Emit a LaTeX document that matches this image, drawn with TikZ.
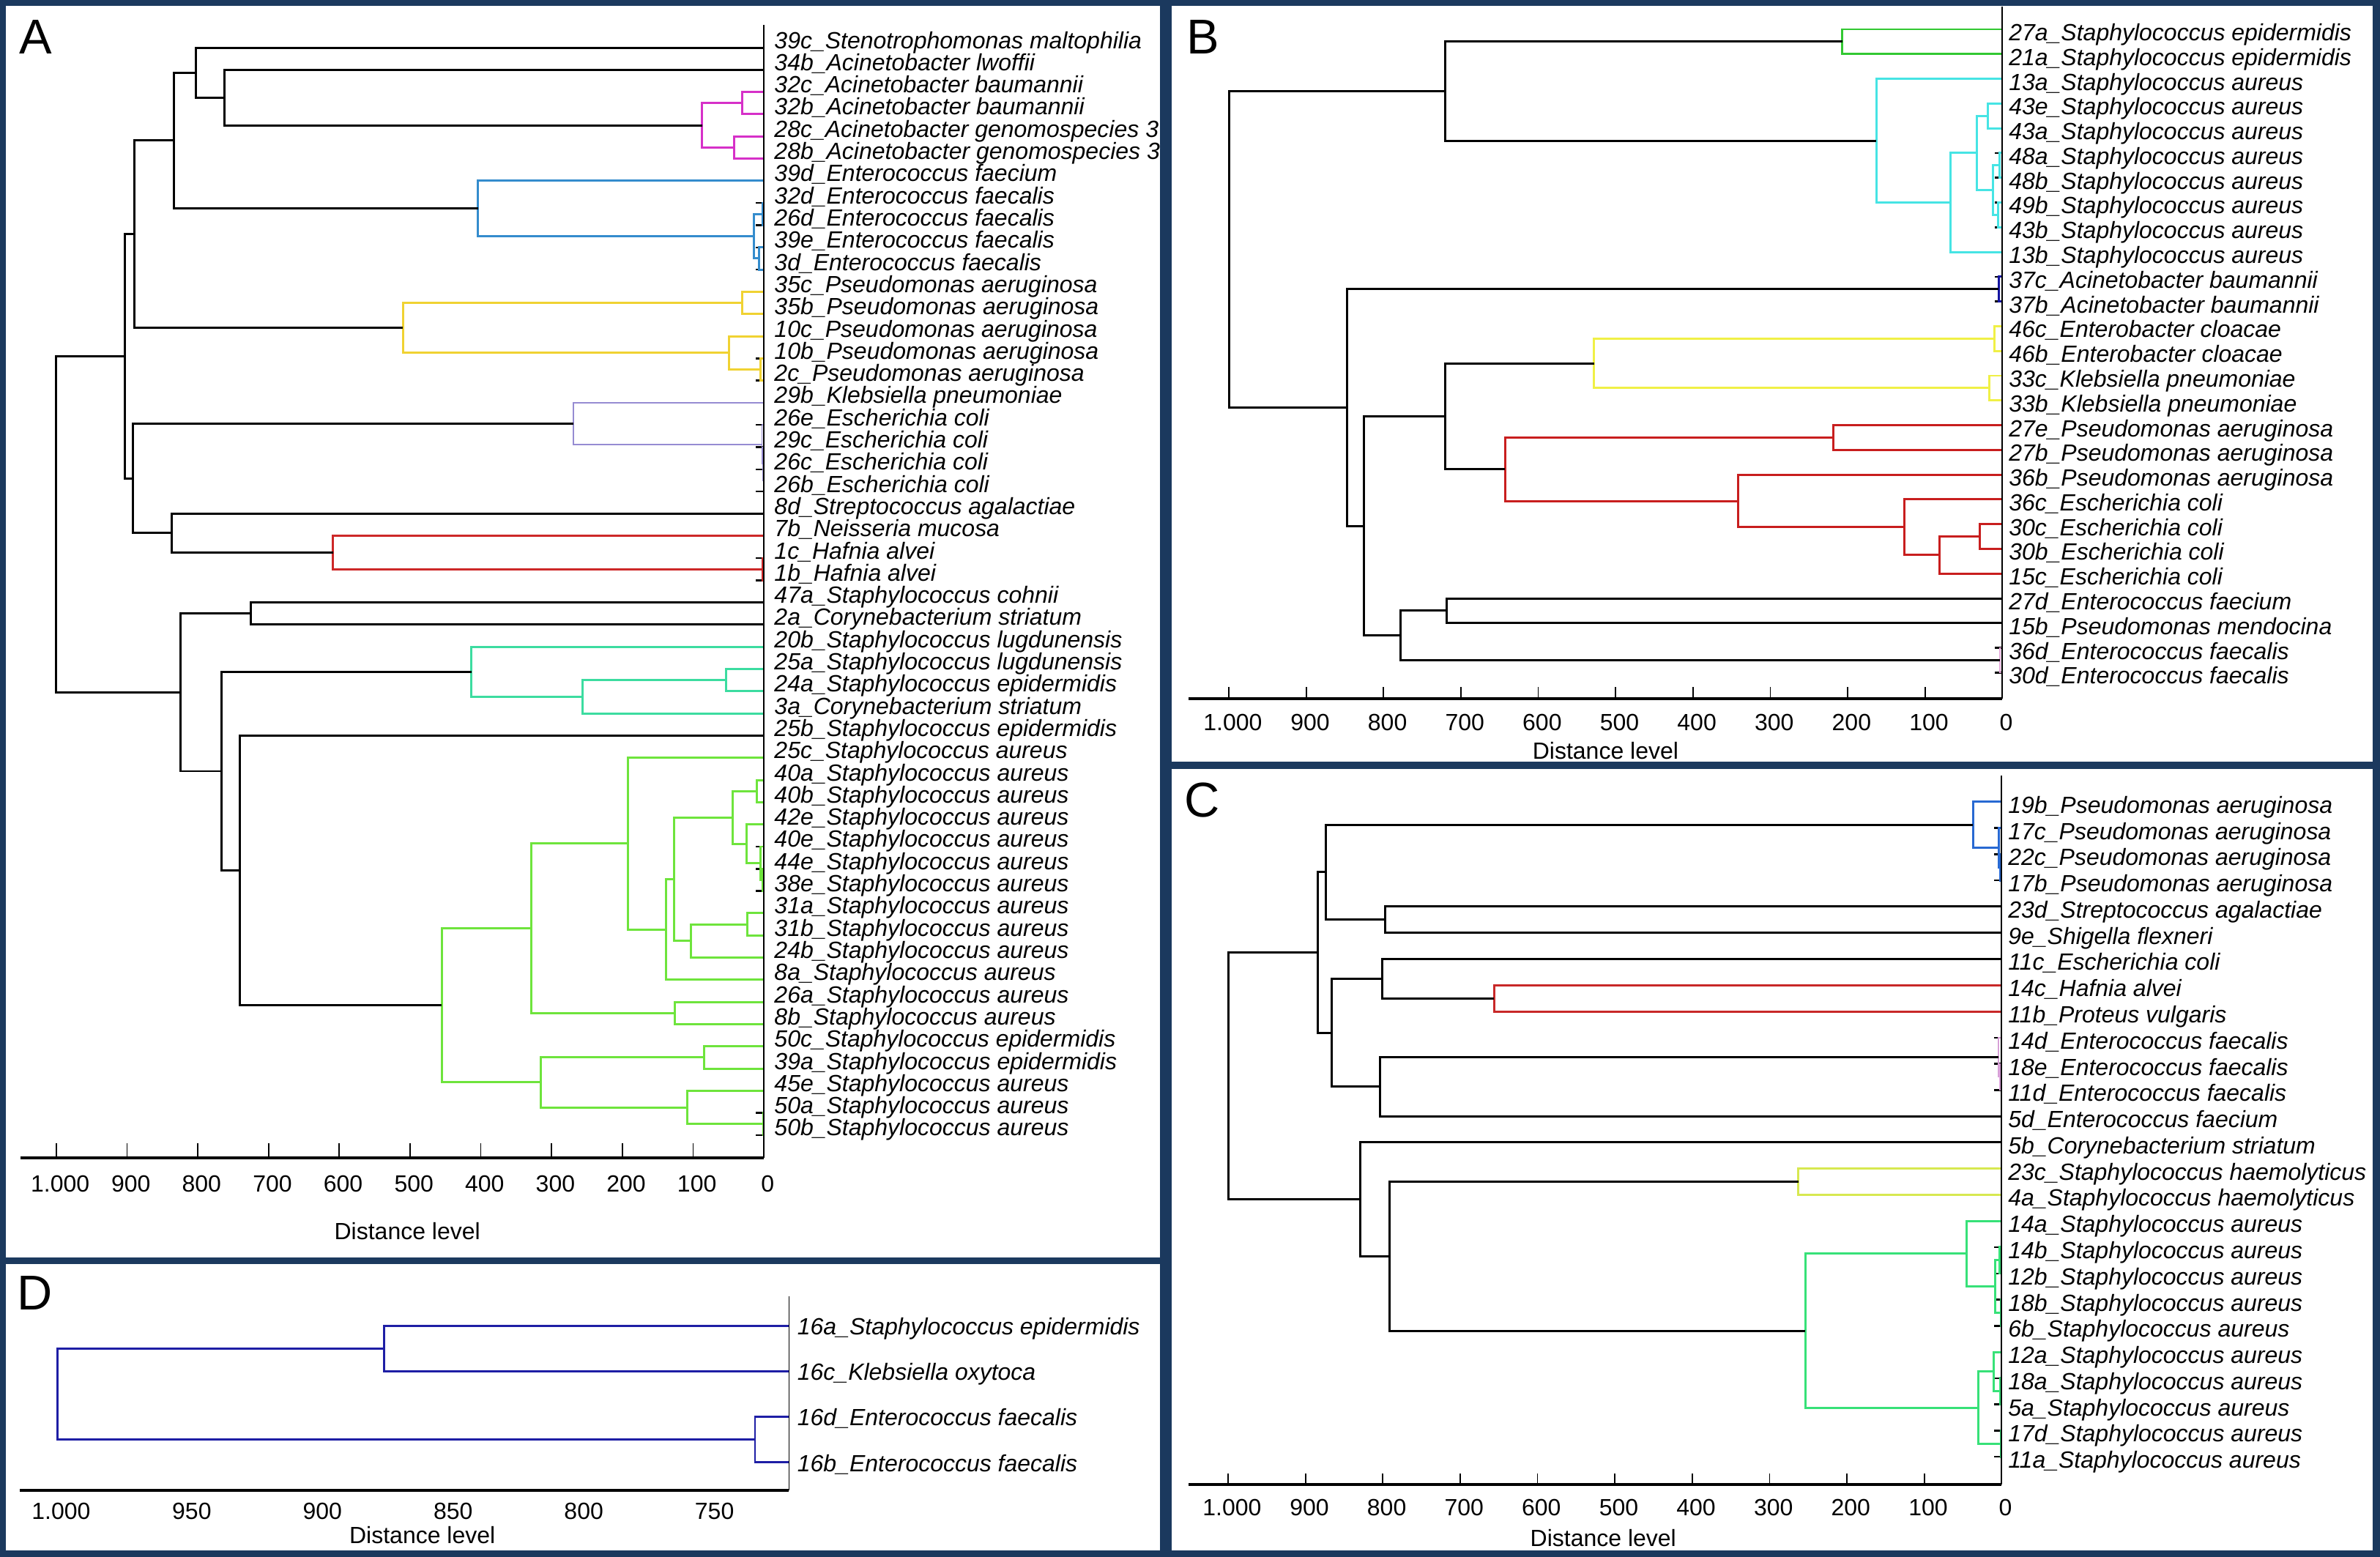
\documentclass[tikz,border=0pt]{standalone}
\usepackage{fontspec}
\setmainfont{Liberation Sans}
\usetikzlibrary{calc}

\definecolor{frame}{RGB}{27,57,94}
\definecolor{magA}{RGB}{214,48,200}
\definecolor{blueA}{RGB}{52,140,205}
\definecolor{yelA}{RGB}{240,210,50}
\definecolor{lavA}{RGB}{150,140,210}
\definecolor{redA}{RGB}{205,40,40}
\definecolor{tealA}{RGB}{60,220,160}
\definecolor{grnA}{RGB}{110,228,60}
\definecolor{grnB}{RGB}{50,200,50}
\definecolor{cyanB}{RGB}{70,228,228}
\definecolor{navyB}{RGB}{20,20,160}
\definecolor{yelB}{RGB}{240,240,70}
\definecolor{redB}{RGB}{200,30,30}
\definecolor{pinkB}{RGB}{230,170,220}
\definecolor{blueC}{RGB}{40,105,210}
\definecolor{redC}{RGB}{200,40,40}
\definecolor{pinkC}{RGB}{215,160,215}
\definecolor{limeC}{RGB}{215,232,80}
\definecolor{grnC}{RGB}{55,225,120}
\definecolor{blueD}{RGB}{30,30,165}

% name, distance, child 1, child 2, colour
\newcommand\mergenode[5]{%
  \coordinate (#1x) at (#2,0);
  \path ($(#3)!.5!(#4)$) coordinate (#1y);
  \coordinate (#1) at (#1x |- #1y);
  \draw[#5] (#3) -| (#1) |- (#4);
}

\begin{document}
\begin{tikzpicture}[x=0.020727cm, y=-0.020727cm, line width=0.85pt,
  leaflab/.style={anchor=base west, inner sep=0pt, font=\fontsize{9.1}{10}\selectfont\itshape},
  ticklab/.style={inner sep=0pt, xshift=1.5pt, font=\fontsize{9.1}{10}\selectfont},
  panlab/.style={inner sep=0pt, font=\fontsize{19}{20}\selectfont},
  axisline/.style={line width=1.1pt},
  thinaxis/.style={line width=0.5pt},
  stub/.style={line width=0.7pt}]

\useasboundingbox (0,0) rectangle (1568,1025.7);
\fill[frame] (0,0) rectangle (1568,1025.7);
\fill[white] (4,3.8) rectangle (764.2,828.2);
\fill[white] (4,832.7) rectangle (764.2,1021.2);
\fill[white] (772,3.8) rectangle (1563,501.8);
\fill[white] (772,506.6) rectangle (1563,1021.2);

\node[panlab] (labA) at (23.4,24.5) {A};
\node[panlab] (labB) at (792.5,24.5) {B};
\node[panlab] (labC) at (792,527.3) {C};
\node[panlab] (labD) at (23,852) {D};

% A
\begin{scope}[shift={(503.2,0)}, x=-0.009655cm]
  \foreach \lab [count=\i from 0] in {39c\_Stenotrophomonas maltophilia, 34b\_Acinetobacter lwoffii,
    32c\_Acinetobacter baumannii, 32b\_Acinetobacter baumannii, 28c\_Acinetobacter genomospecies 3,
    28b\_Acinetobacter genomospecies 3, 39d\_Enterococcus faecium, 32d\_Enterococcus faecalis,
    26d\_Enterococcus faecalis, 39e\_Enterococcus faecalis, 3d\_Enterococcus faecalis,
    35c\_Pseudomonas aeruginosa, 35b\_Pseudomonas aeruginosa, 10c\_Pseudomonas aeruginosa,
    10b\_Pseudomonas aeruginosa, 2c\_Pseudomonas aeruginosa, 29b\_Klebsiella pneumoniae,
    26e\_Escherichia coli, 29c\_Escherichia coli, 26c\_Escherichia coli, 26b\_Escherichia coli,
    8d\_Streptococcus agalactiae, 7b\_Neisseria mucosa, 1c\_Hafnia alvei, 1b\_Hafnia alvei,
    47a\_Staphylococcus cohnii, 2a\_Corynebacterium striatum, 20b\_Staphylococcus lugdunensis,
    25a\_Staphylococcus lugdunensis, 24a\_Staphylococcus epidermidis, 3a\_Corynebacterium striatum,
    25b\_Staphylococcus epidermidis, 25c\_Staphylococcus aureus, 40a\_Staphylococcus aureus,
    40b\_Staphylococcus aureus, 42e\_Staphylococcus aureus, 40e\_Staphylococcus aureus,
    44e\_Staphylococcus aureus, 38e\_Staphylococcus aureus, 31a\_Staphylococcus aureus,
    31b\_Staphylococcus aureus, 24b\_Staphylococcus aureus, 8a\_Staphylococcus aureus,
    26a\_Staphylococcus aureus, 8b\_Staphylococcus aureus, 50c\_Staphylococcus epidermidis,
    39a\_Staphylococcus epidermidis, 45e\_Staphylococcus aureus, 50a\_Staphylococcus aureus,
    50b\_Staphylococcus aureus}
  {
    \coordinate (a\i) at (0,{31.4+14.62*\i});
    \draw[stub] (a\i) -- ++(-3pt,0pt);
    \node[leaflab, xshift=0.13cm, yshift=-0.01cm] (la\i) at (a\i) {\lab};
  }

  \mergenode{am1}{31}{a2}{a3}{magA}
  \mergenode{am2}{42}{a4}{a5}{magA}
  \mergenode{am3}{87}{am1}{am2}{magA}
  \mergenode{aa1}{762}{a1}{am3}{black}
  \mergenode{aa2}{803}{a0}{aa1}{black}
  \mergenode{ab1}{1.5}{a7}{a8}{blueA}
  \mergenode{ab2}{7}{a9}{a10}{blueA}
  \mergenode{ab3}{14}{ab1}{ab2}{blueA}
  \mergenode{ab4}{404}{a6}{ab3}{blueA}
  \mergenode{aa3}{834}{aa2}{ab4}{black}
  \mergenode{ay1}{31}{a11}{a12}{yelA}
  \mergenode{ay2}{5}{a14}{a15}{yelA}
  \mergenode{ay3}{49}{a13}{ay2}{yelA}
  \mergenode{ay4}{510}{ay1}{ay3}{yelA}
  \mergenode{aa4}{890}{aa3}{ay4}{black}
  \mergenode{ap1}{0.7}{a19}{a20}{lavA, line width=0.45pt}
  \mergenode{ap2}{1.5}{a18}{ap1}{lavA, line width=0.45pt}
  \mergenode{ap3}{2.5}{a17}{ap2}{lavA, line width=0.45pt}
  \mergenode{ap4}{269}{a16}{ap3}{lavA, line width=0.45pt}
  \mergenode{ar1}{2}{a23}{a24}{redA}
  \mergenode{ar2}{609}{a22}{ar1}{redA}
  \mergenode{aa5}{837}{a21}{ar2}{black}
  \mergenode{aa6}{892}{ap4}{aa5}{black}
  \mergenode{aa7}{903}{aa4}{aa6}{black}
  \mergenode{aa8}{725}{a25}{a26}{black}
  \mergenode{at1}{53}{a28}{a29}{tealA}
  \mergenode{at2}{256}{at1}{a30}{tealA}
  \mergenode{at3}{413}{a27}{at2}{tealA}
  \mergenode{ag1}{10}{a33}{a34}{grnA}
  \mergenode{ag2}{2}{a37}{a38}{grnA}
  \mergenode{ag3}{5}{a36}{ag2}{grnA}
  \mergenode{ag4}{24}{a35}{ag3}{grnA}
  \mergenode{ag5}{44}{ag1}{ag4}{grnA}
  \mergenode{ag6}{23}{a39}{a40}{grnA}
  \mergenode{ag7}{103}{ag6}{a41}{grnA}
  \mergenode{ag8}{127}{ag5}{ag7}{grnA}
  \mergenode{ag9}{138}{ag8}{a42}{grnA}
  \mergenode{ag10}{192}{a32}{ag9}{grnA}
  \mergenode{ag11}{126}{a43}{a44}{grnA}
  \mergenode{ag12}{329}{ag10}{ag11}{grnA}
  \mergenode{ag13}{84}{a45}{a46}{grnA}
  \mergenode{ag14}{0.8}{a48}{a49}{grnA}
  \mergenode{ag15}{108}{a47}{ag14}{grnA}
  \mergenode{ag16}{315}{ag13}{ag15}{grnA}
  \mergenode{ag17}{455}{ag12}{ag16}{grnA}
  \mergenode{aa9}{741}{a31}{ag17}{black}
  \mergenode{aa10}{766}{at3}{aa9}{black}
  \mergenode{aa11}{824}{aa8}{aa10}{black}
  \mergenode{aa12}{1000}{aa7}{aa11}{black}

  \draw[thinaxis] (0,16.4) -- (0,762.8);
  \draw[axisline] (1050.7,762.8) -- (0,762.8);
  \foreach \dist/\lab in {0/0,100/100,200/200,300/300,400/400,500/500,600/600,700/700,800/800,900/900,1000/1.000}
  {
    \draw[thinaxis] (\dist,762.8) -- (\dist,753);
    \node[ticklab] (ta\dist) at (\dist,779.8) {\lab};
  }
\end{scope}
\node[ticklab, xshift=0pt] (distA) at (265.8,811) {Distance level};

% B
\begin{scope}[shift={(1319.2,0)}, x=-0.010565cm]
  \foreach \lab [count=\i from 0] in {27a\_Staphylococcus epidermidis, 21a\_Staphylococcus epidermidis,
    13a\_Staphylococcus aureus, 43e\_Staphylococcus aureus, 43a\_Staphylococcus aureus,
    48a\_Staphylococcus aureus, 48b\_Staphylococcus aureus, 49b\_Staphylococcus aureus,
    43b\_Staphylococcus aureus, 13b\_Staphylococcus aureus, 37c\_Acinetobacter baumannii,
    37b\_Acinetobacter baumannii, 46c\_Enterobacter cloacae, 46b\_Enterobacter cloacae,
    33c\_Klebsiella pneumoniae, 33b\_Klebsiella pneumoniae, 27e\_Pseudomonas aeruginosa,
    27b\_Pseudomonas aeruginosa, 36b\_Pseudomonas aeruginosa, 36c\_Escherichia coli,
    30c\_Escherichia coli, 30b\_Escherichia coli, 15c\_Escherichia coli,
    27d\_Enterococcus faecium, 15b\_Pseudomonas mendocina, 36d\_Enterococcus faecalis,
    30d\_Enterococcus faecalis}
  {
    \coordinate (b\i) at (0,{19.3+16.3*\i});
    \draw[stub] (b\i) -- ++(-3pt,0pt);
    \node[leaflab, xshift=0.075cm, yshift=-0.155cm] (lb\i) at (b\i) {\lab};
  }

  \mergenode{bg1}{207}{b0}{b1}{grnB}
  \mergenode{bc1}{19}{b3}{b4}{cyanB}
  \mergenode{bc2}{4}{b5}{b6}{cyanB}
  \mergenode{bc3}{6}{b7}{b8}{cyanB}
  \mergenode{bc4}{12}{bc2}{bc3}{cyanB}
  \mergenode{bc5}{33}{bc1}{bc4}{cyanB}
  \mergenode{bc6}{67}{bc5}{b9}{cyanB}
  \mergenode{bc7}{163}{b2}{bc6}{cyanB}
  \mergenode{bb1}{720}{bg1}{bc7}{black}
  \mergenode{bn1}{5}{b10}{b11}{navyB}
  \mergenode{by1}{10}{b12}{b13}{yelB}
  \mergenode{by2}{17}{b14}{b15}{yelB}
  \mergenode{by3}{528}{by1}{by2}{yelB}
  \mergenode{br1}{219}{b16}{b17}{redB}
  \mergenode{br2}{29}{b20}{b21}{redB}
  \mergenode{br3}{81}{br2}{b22}{redB}
  \mergenode{br4}{127}{b19}{br3}{redB}
  \mergenode{br5}{342}{b18}{br4}{redB}
  \mergenode{br6}{643}{br1}{br5}{redB}
  \mergenode{bb2}{720}{by3}{br6}{black}
  \mergenode{bb3}{718}{b23}{b24}{black}
  \mergenode{bk1}{3}{b25}{b26}{pinkB, line width=0.45pt}
  \mergenode{bb4}{778}{bb3}{bk1}{black}
  \mergenode{bb5}{825}{bb2}{bb4}{black}
  \mergenode{bb6}{847}{bn1}{bb5}{black}
  \mergenode{bb7}{1000}{bb1}{bb6}{black}

  \draw[thinaxis] (0,4.3) -- (0,460.4);
  \draw[axisline] (1052,460.4) -- (0,460.4);
  \foreach \dist/\lab in {0/0,100/100,200/200,300/300,400/400,500/500,600/600,700/700,800/800,900/900,1000/1.000}
  {
    \draw[thinaxis] (\dist,460.4) -- (\dist,452.4);
    \node[ticklab] (tb\dist) at (\dist,475.7) {\lab};
  }
\end{scope}
\node[ticklab, xshift=0pt] (distB) at (1055.2,494.5) {Distance level};

% C
\begin{scope}[shift={(1318.7,0)}, x=-0.010565cm]
  \foreach \lab [count=\i from 0] in {19b\_Pseudomonas aeruginosa, 17c\_Pseudomonas aeruginosa,
    22c\_Pseudomonas aeruginosa, 17b\_Pseudomonas aeruginosa, 23d\_Streptococcus agalactiae,
    9e\_Shigella flexneri, 11c\_Escherichia coli, 14c\_Hafnia alvei, 11b\_Proteus vulgaris,
    14d\_Enterococcus faecalis, 18e\_Enterococcus faecalis, 11d\_Enterococcus faecalis,
    5d\_Enterococcus faecium, 5b\_Corynebacterium striatum, 23c\_Staphylococcus haemolyticus,
    4a\_Staphylococcus haemolyticus, 14a\_Staphylococcus aureus, 14b\_Staphylococcus aureus,
    12b\_Staphylococcus aureus, 18b\_Staphylococcus aureus, 6b\_Staphylococcus aureus,
    12a\_Staphylococcus aureus, 18a\_Staphylococcus aureus, 5a\_Staphylococcus aureus,
    17d\_Staphylococcus aureus, 11a\_Staphylococcus aureus}
  {
    \coordinate (c\i) at (0,{528.2+17.26*\i});
    \draw[stub] (c\i) -- ++(-3pt,0pt);
    \node[leaflab, xshift=0.075cm, yshift=-0.155cm] (lc\i) at (c\i) {\lab};
  }

  \mergenode{cb1}{2}{c2}{c3}{blueC}
  \mergenode{cb2}{4}{c1}{cb1}{blueC}
  \mergenode{cb3}{37}{c0}{cb2}{blueC}
  \mergenode{cc1}{797}{c4}{c5}{black}
  \mergenode{cc2}{874}{cb3}{cc1}{black}
  \mergenode{cr1}{656}{c7}{c8}{redC}
  \mergenode{cc3}{801}{c6}{cr1}{black}
  \mergenode{ck1}{2}{c10}{c11}{pinkC, line width=0.45pt}
  \mergenode{ck2}{4}{c9}{ck1}{pinkC, line width=0.45pt}
  \mergenode{cc4}{804}{ck2}{c12}{black}
  \mergenode{cc5}{866}{cc3}{cc4}{black}
  \mergenode{cc6}{884}{cc2}{cc5}{black}
  \mergenode{cy1}{263}{c14}{c15}{limeC}
  \mergenode{cg1}{3}{c17}{c18}{grnC}
  \mergenode{cg2}{0.5}{c19}{c20}{grnC}
  \mergenode{cg3}{8.6}{cg1}{cg2}{grnC}
  \mergenode{cg4}{45}{c16}{cg3}{grnC}
  \mergenode{cg5}{1.5}{c22}{c23}{grnC}
  \mergenode{cg6}{10}{c21}{cg5}{grnC}
  \mergenode{cg7}{0.5}{c24}{c25}{grnC}
  \mergenode{cg8}{30}{cg6}{cg7}{grnC}
  \mergenode{cg9}{254}{cg4}{cg8}{grnC}
  \mergenode{cc7}{791}{cy1}{cg9}{black}
  \mergenode{cc8}{829}{c13}{cc7}{black}
  \mergenode{cc9}{1000}{cc6}{cc8}{black}

  \draw[thinaxis] (0,510.8) -- (0,978.1);
  \draw[axisline] (1051,978.1) -- (0,978.1);
  \foreach \dist/\lab in {0/0,100/100,200/200,300/300,400/400,500/500,600/600,700/700,800/800,900/900,1000/1.000}
  {
    \draw[thinaxis] (\dist,978.1) -- (\dist,970.6);
    \node[ticklab] (tc\dist) at (\dist,993.3) {\lab};
  }
\end{scope}
\node[ticklab, xshift=0pt] (distC) at (1053.7,1013.4) {Distance level};

% D
\begin{scope}[shift={(1759.4,0)}, x=-0.03567cm]
  \foreach \lab [count=\i from 0] in {16a\_Staphylococcus epidermidis, 16c\_Klebsiella oxytoca,
    16d\_Enterococcus faecalis, 16b\_Enterococcus faecalis}
  {
    \coordinate (d\i) at (720,{873.3+30*\i});
    \draw[stub, blueD] (d\i) -- ++(-3pt,0pt);
    \node[leaflab, xshift=0.1cm, yshift=-0.124cm] (ld\i) at (d\i) {\lab};
  }

  \mergenode{dd1}{875}{d0}{d1}{blueD}
  \mergenode{dd2}{733}{d2}{d3}{blueD}
  \mergenode{dd3}{1000}{dd1}{dd2}{blueD}

  \draw[thinaxis] (720,854) -- (720,981.8);
  \draw[axisline] (1014.3,981.8) -- (720,981.8);
  \foreach \dist/\lab in {750/750,800/800,850/850,900/900,950/950,1000/1.000}
    \node[ticklab] (td\dist) at (\dist,995.5) {\lab};
\end{scope}
\node[ticklab, xshift=0pt] (distD) at (275.7,1011.3) {Distance level};

\end{tikzpicture}
\end{document}
